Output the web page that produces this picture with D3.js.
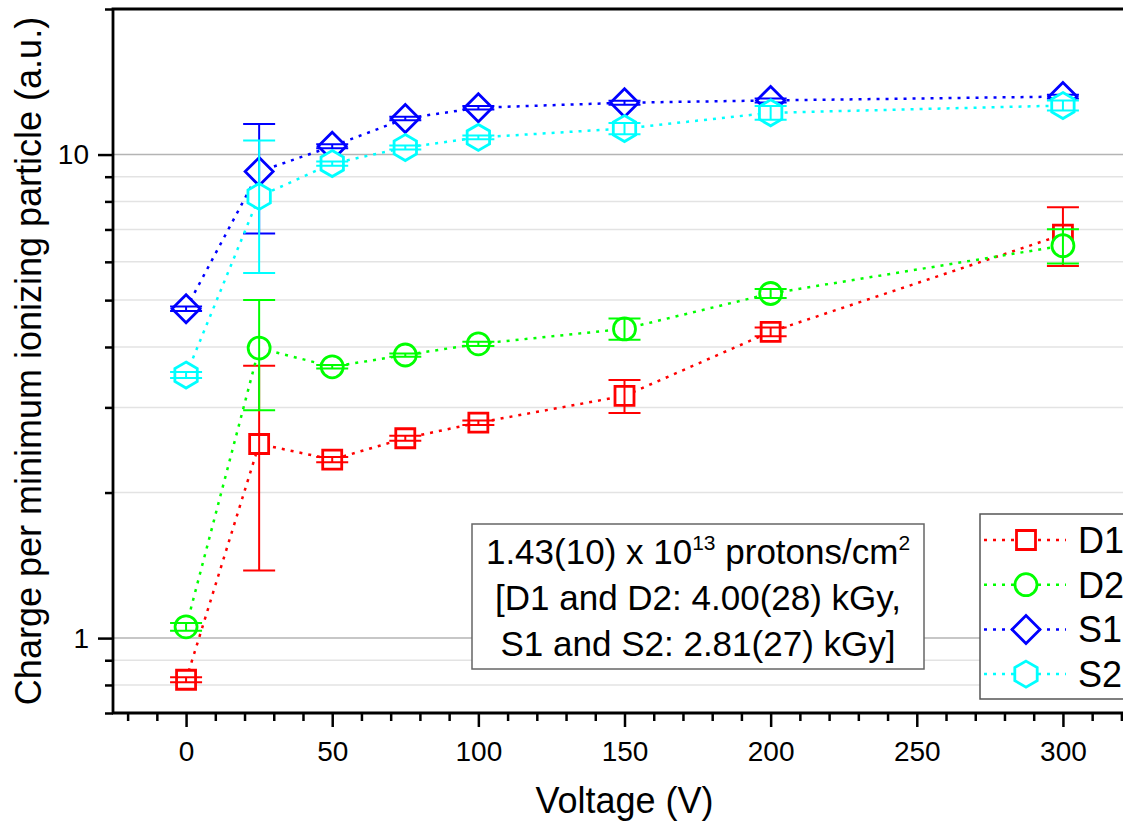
<!DOCTYPE html>
<html>
<head>
<meta charset="utf-8">
<script src="https://cdn.jsdelivr.net/npm/d3@7"></script>
<style>
  body { margin: 0; background: #fff; }
  svg { display: block; font-family: "Liberation Sans", Arial, sans-serif; }
</style>
</head>
<body>
<div id="chart"></div>
<script>
// chart size
const w = 1123, h = 824;
const marginTop = 9, marginLeft = 113, marginBottom = 111;
const plotRight = 1136; // frame runs past the window edge

// data
const voltage = [0, 25, 50, 75, 100, 150, 200, 300];
const d1 = [0.82, 2.52, 2.34, 2.59, 2.79, 3.17, 4.30, 6.83];
const d1Err = [0.01, 1.14, 0.03, 0.03, 0.03, 0.25, 0.09, 0.95];
const d2 = [1.055, 3.98, 3.64, 3.85, 4.06, 4.36, 5.16, 6.48];
const d2Err = [0.02, 1.02, 0.03, 0.03, 0.04, 0.22, 0.11, 0.53];
const s1 = [4.80, 9.22, 10.4, 11.87, 12.5, 12.8, 12.94, 13.18];
const s1Err = [0.05, 2.35, 0.1, 0.1, 0.1, 0.12, 0.12, 0.12];
const s2 = [3.50, 8.19, 9.58, 10.34, 10.85, 11.32, 12.2, 12.63];
const s2Err = [0.05, 2.5, 0.1, 0.1, 0.1, 0.3, 0.4, 0.3];

const seriesNames = ["D1", "D2", "S1", "S2"];
const seriesColors = ["#ff0000", "#00ff00", "#0000ff", "#00ffff"];
const seriesShapes = ["square", "circle", "diamond", "hexagon"];

const xMajorTicks = [0, 50, 100, 150, 200, 250, 300];
const xMinorTicks = d3.range(-20, 330, 10);
const yMajorTicks = [1, 10];
const yMinorTicks = [0.7, 0.8, 0.9, 2, 3, 4, 5, 6, 7, 8, 9, 20];

const series = [
  { name: seriesNames[0], values: d1, err: d1Err },
  { name: seriesNames[1], values: d2, err: d2Err },
  { name: seriesNames[2], values: s1, err: s1Err },
  { name: seriesNames[3], values: s2, err: s2Err }
].map((s, i) => ({
  ...s,
  color: seriesColors[i],
  shape: seriesShapes[i],
  points: voltage.map((v, j) => ({ x: v, y: s.values[j], e: s.err[j] }))
}));

const x = d3.scaleLinear().domain([-25, 325]).range([marginLeft, plotRight]);
const y = d3.scaleLog().domain([0.7, 20]).range([h - marginBottom, marginTop]);

function markerPath(shape) {
  if (shape === "square") return "M-9.5,-9.5H9.5V9.5H-9.5Z";
  if (shape === "circle") return "M11,0A11,11 0 1,1 -11,0A11,11 0 1,1 11,0Z";
  if (shape === "diamond") return "M0,-14L14,0L0,14L-14,0Z";
  // pointy-top hexagon
  return "M0,-13L11.2,-6.5L11.2,6.5L0,13L-11.2,6.5L-11.2,-6.5Z";
}

const svg = d3.select("#chart").append("svg")
  .attr("width", w).attr("height", h)
  .attr("viewBox", [0, 0, w, h]);

// grid lines
svg.append("g")
  .selectAll("line")
  .data(yMinorTicks.filter(v => v > 0.7 && v < 20))
  .join("line")
  .attr("x1", marginLeft).attr("x2", plotRight)
  .attr("y1", d => y(d)).attr("y2", d => y(d))
  .attr("stroke", "#e3e3e3").attr("stroke-width", 1.5);

svg.append("g")
  .selectAll("line")
  .data(yMajorTicks)
  .join("line")
  .attr("x1", marginLeft).attr("x2", plotRight)
  .attr("y1", d => y(d)).attr("y2", d => y(d))
  .attr("stroke", "#b4b4b4").attr("stroke-width", 1.5);

// series
const line = d3.line().x(d => x(d.x)).y(d => y(d.y));

series.forEach(s => {
  const g = svg.append("g");
  g.append("path")
    .attr("d", line(s.points))
    .attr("fill", "none")
    .attr("stroke", s.color)
    .attr("stroke-width", 2.5)
    .attr("stroke-dasharray", "3,6");

  g.selectAll("path.mk")
    .data(s.points)
    .join("path")
    .attr("class", "mk")
    .attr("transform", d => `translate(${x(d.x)},${y(d.y)})`)
    .attr("d", markerPath(s.shape))
    .attr("fill", "#fff")
    .attr("stroke", s.color)
    .attr("stroke-width", 2.8);

  const eb = g.selectAll("g.eb")
    .data(s.points)
    .join("g")
    .attr("class", "eb")
    .attr("stroke", s.color)
    .attr("stroke-width", 2);
  eb.append("line")
    .attr("x1", d => x(d.x)).attr("x2", d => x(d.x))
    .attr("y1", d => y(d.y + d.e)).attr("y2", d => y(d.y - d.e));
  eb.append("line")
    .attr("x1", d => x(d.x) - 16).attr("x2", d => x(d.x) + 16)
    .attr("y1", d => y(d.y + d.e)).attr("y2", d => y(d.y + d.e));
  eb.append("line")
    .attr("x1", d => x(d.x) - 16).attr("x2", d => x(d.x) + 16)
    .attr("y1", d => y(d.y - d.e)).attr("y2", d => y(d.y - d.e));
});

// axes
const xAxis = svg.append("g")
  .attr("transform", `translate(0,${h - marginBottom})`)
  .call(d3.axisBottom(x).tickValues(xMajorTicks).tickSize(14).tickPadding(14).tickFormat(d3.format("d")))
  .call(g => g.select(".domain").remove());
xAxis.selectAll(".tick line").attr("stroke", "#000").attr("stroke-width", 2.5);
xAxis.selectAll(".tick text").attr("font-size", 28).attr("fill", "#000")
  .attr("font-family", "'Liberation Sans', Arial, sans-serif");

svg.append("g")
  .attr("transform", `translate(0,${h - marginBottom})`)
  .call(d3.axisBottom(x).tickValues(xMinorTicks.filter(v => v % 50 !== 0)).tickSize(8).tickFormat(""))
  .call(g => g.select(".domain").remove())
  .selectAll(".tick line").attr("stroke", "#000").attr("stroke-width", 2.5);

const yAxis = svg.append("g")
  .attr("transform", `translate(${marginLeft},0)`)
  .call(d3.axisLeft(y).tickValues(yMajorTicks).tickSize(15).tickPadding(9).tickFormat(d3.format("d")))
  .call(g => g.select(".domain").remove());
yAxis.selectAll(".tick line").attr("stroke", "#000").attr("stroke-width", 2.5);
yAxis.selectAll(".tick text").attr("font-size", 28).attr("fill", "#000")
  .attr("font-family", "'Liberation Sans', Arial, sans-serif");

svg.append("g")
  .attr("transform", `translate(${marginLeft},0)`)
  .call(d3.axisLeft(y).tickValues(yMinorTicks).tickSize(8).tickFormat(""))
  .call(g => g.select(".domain").remove())
  .selectAll(".tick line").attr("stroke", "#000").attr("stroke-width", 2.5);

// frame lines
svg.append("path")
  .attr("d", `M${marginLeft},${h - marginBottom}V${marginTop}H${plotRight}M${marginLeft - 1},${h - marginBottom}H${plotRight}`)
  .attr("fill", "none").attr("stroke", "#000").attr("stroke-width", 2.8);

// axis titles
svg.append("text")
  .attr("x", (marginLeft + plotRight) / 2).attr("y", 813)
  .attr("text-anchor", "middle").attr("font-size", 36)
  .text("Voltage (V)");

svg.append("text")
  .attr("transform", `translate(41,${(marginTop + h - marginBottom) / 2}) rotate(-90)`)
  .attr("text-anchor", "middle").attr("font-size", 36)
  .text("Charge per minimum ionizing particle (a.u.)");

// annotation box
const note = svg.append("g");
note.append("rect")
  .attr("x", 472).attr("y", 524).attr("width", 452).attr("height", 145)
  .attr("fill", "#fff").attr("stroke", "#666").attr("stroke-width", 1.5);
const t1 = note.append("text").attr("x", 698).attr("y", 564)
  .attr("text-anchor", "middle").attr("font-size", 35);
t1.append("tspan").text("1.43(10) x 10");
t1.append("tspan").attr("dy", -14).attr("font-size", 21).text("13");
t1.append("tspan").attr("dy", 14).text(" protons/cm");
t1.append("tspan").attr("dy", -14).attr("font-size", 21).text("2");
note.append("text").attr("x", 698).attr("y", 610)
  .attr("text-anchor", "middle").attr("font-size", 35)
  .text("[D1 and D2: 4.00(28) kGy,");
note.append("text").attr("x", 698).attr("y", 656)
  .attr("text-anchor", "middle").attr("font-size", 35)
  .text("S1 and S2: 2.81(27) kGy]");

// legend
const legend = svg.append("g");
legend.append("rect")
  .attr("x", 980).attr("y", 514).attr("width", 170).attr("height", 185)
  .attr("fill", "#fff").attr("stroke", "#555").attr("stroke-width", 1.5);
const item = legend.selectAll("g.item")
  .data(series)
  .join("g")
  .attr("class", "item")
  .attr("transform", (d, i) => `translate(0,${540 + i * 44.7})`);
item.append("line")
  .attr("x1", 984).attr("x2", 1066).attr("y1", 0).attr("y2", 0)
  .attr("stroke", d => d.color).attr("stroke-width", 2.5)
  .attr("stroke-dasharray", "3,6");
item.append("path")
  .attr("transform", "translate(1026,0)")
  .attr("d", d => markerPath(d.shape))
  .attr("fill", "#fff")
  .attr("stroke", d => d.color).attr("stroke-width", 2.8);
item.append("text")
  .attr("x", 1078).attr("y", 13)
  .attr("font-size", 36)
  .text(d => d.name);
</script>
</body>
</html>
